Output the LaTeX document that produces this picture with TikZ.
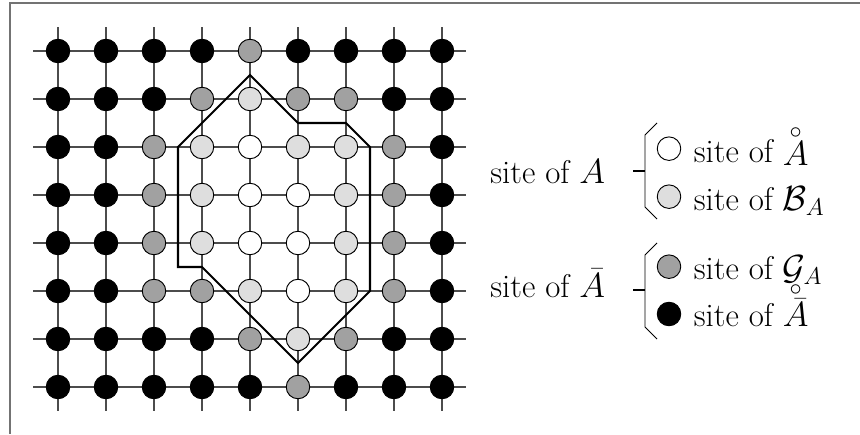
\documentclass[tikz,border=0pt]{standalone}
\begin{document}
\begin{tikzpicture}[x=1cm,y=1cm,
  gridline/.style={draw=black!70, line width=0.65pt},
  site/.style={circle, draw=black, line width=0.55pt, minimum size=0.49cm, inner sep=0pt},
  sB/.style={site, fill=black},
  sG/.style={site, fill=black!37},
  sL/.style={site, fill=black!13},
  sW/.style={site, fill=white},
  border/.style={draw=black!55, line width=0.6pt},
  region/.style={draw=black, line width=1.2pt, line join=miter},
  brace/.style={draw=black, line width=0.5pt},
  tick/.style={draw=black, line width=0.9pt},
  lbl/.style={font=\fontsize{19.5}{23}\selectfont, inner sep=0pt, anchor=base west}]
\useasboundingbox (0,0) rectangle (17.9167,-9.0417);
% frame
\draw[border] (17.9167,-0.0625) -- (0.2083,-0.0625) -- (0.2083,-9.0417);
% lattice
\begin{scope}[shift={(1.2083,-1.0625)}, yscale=-1]
  \foreach \rr in {0,...,7} \draw[gridline] (-0.52,\rr) -- (8.5,\rr);
  \foreach \cc in {0,...,8} \draw[gridline] (\cc,-0.5) -- (\cc,7.5);
  \foreach \rowlist [count=\rr from 0] in {
      {B,B,B,B,G,B,B,B,B},
      {B,B,B,G,L,G,G,B,B},
      {B,B,G,L,W,L,L,G,B},
      {B,B,G,L,W,W,L,G,B},
      {B,B,G,L,W,W,L,G,B},
      {B,B,G,G,L,W,L,G,B},
      {B,B,B,B,G,L,G,B,B},
      {B,B,B,B,B,G,B,B,B}} {
    \foreach \typ [count=\cc from 0] in \rowlist {
      \node[s\typ] (n-\rr-\cc) at (\cc,\rr) {};
    }
  }
  \draw[region] (4,0.5) -- (5,1.5) -- (6,1.5) -- (6.5,2) -- (6.5,5)
     -- (5,6.5) -- (3,4.5) -- (2.5,4.5) -- (2.5,2) -- cycle;
\end{scope}
% legend
\node[lbl] (lA) at (10.2083,-3.8125) {site of $A$};
\node[lbl] (lAbar) at (10.2083,-6.1875) {site of $\bar{A}$};
\draw[brace] (13.6875,-2.5625) -- (13.4375,-2.8125) -- (13.4375,-4.3125) -- (13.6875,-4.5625);
\draw[tick] (13.1875,-3.5625) -- (13.4375,-3.5625);
\draw[brace] (13.6875,-5.0625) -- (13.4375,-5.3125) -- (13.4375,-6.8125) -- (13.6875,-7.0625);
\draw[tick] (13.1875,-6.0417) -- (13.4375,-6.0417);
\node[sW] (k1) at (13.9375,-3.0972) {};
\node[sL] (k2) at (13.9375,-4.0972) {};
\node[sG] (k3) at (13.9375,-5.5556) {};
\node[sB] (k4) at (13.9375,-6.5417) {};
\node[lbl] (t1) at ([xshift=0.51cm,yshift=-0.28cm]k1.center) {site of $\stackrel{\circ}{A}$};
\node[lbl] (t2) at ([xshift=0.51cm,yshift=-0.28cm]k2.center) {site of $\mathcal{B}_A$};
\node[lbl] (t3) at ([xshift=0.51cm,yshift=-0.27cm]k3.center) {site of $\mathcal{G}_A$};
\node[lbl] (t4) at ([xshift=0.51cm,yshift=-0.27cm]k4.center) {site of $\stackrel{\circ}{\bar{A}}$};
\end{tikzpicture}
\end{document}
